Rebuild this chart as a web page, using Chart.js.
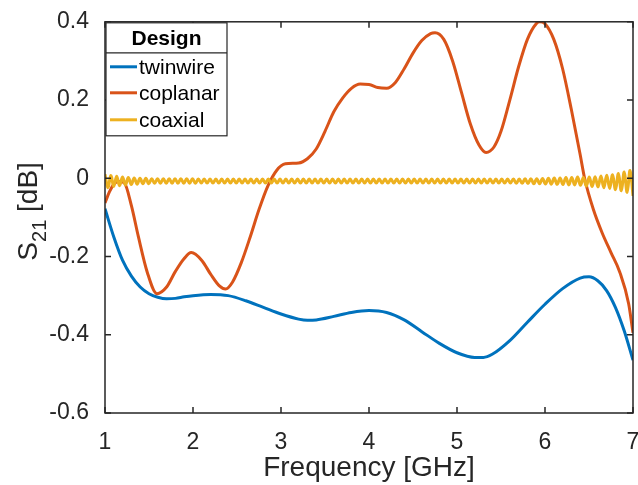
<!DOCTYPE html>
<html>
<head>
<meta charset="utf-8">
<script src="https://cdn.jsdelivr.net/npm/chart.js@4.4.1/dist/chart.umd.min.js"></script>
<style>
  html, body { margin: 0; padding: 0; background: #fff; }
  #wrap { width: 638px; height: 485px; }
</style>
</head>
<body>
<div id="wrap"><canvas id="s21Chart" width="638" height="485"></canvas></div>
<script>
const seriesNames = ['twinwire', 'coplanar', 'coaxial'];
const seriesColors = ['#0072BD', '#D95319', '#EDB120'];
const axisColor = '#262626';
const fontFamily = '"Liberation Sans", Arial, Helvetica, sans-serif';

const xTicks = [1, 2, 3, 4, 5, 6, 7];
const yTicks = [-0.6, -0.4, -0.2, 0, 0.2, 0.4];
const yTickLabels = ['-0.6', '-0.4', '-0.2', '0', '0.2', '0.4'];

// twinwire
const twinwireFreq = [1.00, 1.10, 1.20, 1.30, 1.40, 1.50, 1.60, 1.70, 1.80, 1.90, 2.00, 2.20, 2.40, 2.60,
    2.80, 3.00, 3.20, 3.30, 3.40, 3.60, 3.80, 4.00, 4.20, 4.40, 4.60, 4.80, 5.00, 5.20, 5.30, 5.40,
    5.60, 5.80, 6.00, 6.20, 6.40, 6.50, 6.60, 6.70, 6.80, 6.90, 7.00];
const twinwireS21 = [-0.078, -0.150, -0.210, -0.250, -0.278, -0.295, -0.304, -0.308, -0.307, -0.303, -0.300, -0.297, -0.300, -0.313,
    -0.330, -0.347, -0.360, -0.363, -0.362, -0.353, -0.343, -0.338, -0.343, -0.362, -0.392, -0.422, -0.446, -0.458, -0.458, -0.450,
    -0.415, -0.368, -0.322, -0.282, -0.255, -0.252, -0.262, -0.287, -0.330, -0.390, -0.465];

// coplanar
const coplanarFreq = [1.00, 1.05, 1.10, 1.16, 1.22, 1.30, 1.38, 1.48, 1.59, 1.70, 1.80, 1.90, 1.98, 2.10,
    2.20, 2.30, 2.37, 2.45, 2.55, 2.65, 2.75, 2.85, 2.95, 3.05, 3.20, 3.30, 3.40, 3.50, 3.60, 3.70,
    3.80, 3.90, 4.00, 4.10, 4.20, 4.30, 4.40, 4.50, 4.60, 4.70, 4.75, 4.85, 4.95, 5.05, 5.15, 5.25,
    5.33, 5.42, 5.50, 5.60, 5.70, 5.80, 5.90, 5.94, 6.00, 6.10, 6.20, 6.30, 6.40, 6.45, 6.55, 6.65,
    6.75, 6.85, 6.95, 7.00];
const coplanarS21 = [-0.063, -0.035, -0.015, -0.008, -0.012, -0.070, -0.150, -0.240, -0.295, -0.278, -0.238, -0.205, -0.190, -0.210,
    -0.245, -0.275, -0.283, -0.265, -0.215, -0.150, -0.080, -0.020, 0.020, 0.037, 0.039, 0.050, 0.075, 0.120, 0.170, 0.205,
    0.230, 0.241, 0.240, 0.232, 0.230, 0.245, 0.280, 0.320, 0.352, 0.370, 0.372, 0.355, 0.300, 0.220, 0.140, 0.085,
    0.066, 0.080, 0.120, 0.200, 0.285, 0.355, 0.395, 0.400, 0.395, 0.355, 0.280, 0.175, 0.060, 0.000, -0.080, -0.140,
    -0.190, -0.240, -0.320, -0.395];

// coaxial ripple: successive crests and troughs, evenly spaced from 1 to 7 GHz
const coaxialCrests = [0.010, 0.007, 0.005, 0.003, 0.002, 0.001, 0.000, 0.000, -0.001, -0.001,
    -0.001, -0.001, -0.001, -0.001, -0.001, -0.001, -0.002, -0.002, -0.002, -0.002,
    -0.002, -0.002, -0.002, -0.002, -0.002, -0.002, -0.002, -0.002, -0.002, -0.002,
    -0.002, -0.002, -0.002, -0.002, -0.002, -0.002, -0.002, -0.002, -0.002, -0.002,
    -0.002, -0.002, -0.002, -0.002, -0.002, -0.002, -0.002, -0.002, -0.002, -0.002,
    -0.002, -0.002, -0.002, -0.002, -0.002, -0.002, -0.002, -0.002, -0.002, -0.002,
    -0.002, -0.002, -0.002, -0.002, -0.002, -0.002, -0.002, -0.002, -0.002, -0.002,
    -0.002, -0.002, -0.0015, -0.001, -0.001, -0.0005, 0.000, 0.0005, 0.001, 0.002,
    0.002, 0.003, 0.002, 0.003, 0.004, 0.006, 0.008, 0.009, 0.012, 0.016, 0.020];
const coaxialTroughs = [-0.024, -0.021, -0.019, -0.017, -0.016, -0.015, -0.014, -0.014, -0.013, -0.013,
    -0.013, -0.013, -0.013, -0.013, -0.013, -0.013, -0.012, -0.012, -0.012, -0.012,
    -0.012, -0.012, -0.012, -0.012, -0.012, -0.012, -0.012, -0.012, -0.012, -0.012,
    -0.012, -0.012, -0.012, -0.012, -0.012, -0.012, -0.012, -0.012, -0.012, -0.012,
    -0.012, -0.012, -0.012, -0.012, -0.012, -0.012, -0.012, -0.012, -0.012, -0.012,
    -0.012, -0.012, -0.012, -0.012, -0.012, -0.012, -0.012, -0.012, -0.012, -0.012,
    -0.012, -0.012, -0.012, -0.012, -0.012, -0.012, -0.012, -0.012, -0.012, -0.012,
    -0.013, -0.013, -0.0135, -0.014, -0.014, -0.0145, -0.015, -0.0155, -0.016, -0.017,
    -0.017, -0.018, -0.020, -0.021, -0.022, -0.024, -0.026, -0.029, -0.032, -0.036, -0.045];

function pairUp(xs, ys) {
    return xs.map((x, i) => ({ x, y: ys[i] }));
}

const coaxialPoints = [];
const coaxCount = coaxialCrests.length * 2;
coaxialCrests.forEach((c, i) => {
    coaxialPoints.push({ x: 1 + 6 * (2 * i) / (coaxCount - 1), y: c });
    coaxialPoints.push({ x: 1 + 6 * (2 * i + 1) / (coaxCount - 1), y: coaxialTroughs[i] });
});

const framePlugin = {
    id: 'matlabFrame',
    afterDatasetsDraw(chart) {
        const { ctx, chartArea: a, scales: { x, y } } = chart;
        ctx.save();

        // box + inward ticks on all four sides
        ctx.strokeStyle = axisColor;
        ctx.lineWidth = 1.5;
        ctx.strokeRect(a.left, a.top, a.right - a.left, a.bottom - a.top);
        ctx.beginPath();
        xTicks.forEach(v => {
            const px = x.getPixelForValue(v);
            ctx.moveTo(px, a.bottom); ctx.lineTo(px, a.bottom - 6);
            ctx.moveTo(px, a.top); ctx.lineTo(px, a.top + 6);
        });
        yTicks.forEach(v => {
            const py = y.getPixelForValue(v);
            ctx.moveTo(a.left, py); ctx.lineTo(a.left + 6, py);
            ctx.moveTo(a.right, py); ctx.lineTo(a.right - 6, py);
        });
        ctx.stroke();

        // legend with "Design" title
        const lx = a.left + 1, ly = a.top + 1, lw = 121, lh = 113;
        ctx.fillStyle = '#fff';
        ctx.fillRect(lx, ly, lw, lh);
        ctx.lineWidth = 1.2;
        ctx.strokeRect(lx, ly, lw, lh);
        ctx.beginPath();
        ctx.moveTo(lx, ly + 30); ctx.lineTo(lx + lw, ly + 30);
        ctx.stroke();
        ctx.fillStyle = '#000';
        ctx.font = 'bold 21px ' + fontFamily;
        ctx.textAlign = 'center';
        ctx.textBaseline = 'middle';
        ctx.fillText('Design', lx + lw / 2, ly + 16);
        ctx.font = '21px ' + fontFamily;
        ctx.textAlign = 'left';
        [44, 70, 97].forEach((off, i) => {
            ctx.strokeStyle = seriesColors[i];
            ctx.lineWidth = 3;
            ctx.beginPath();
            ctx.moveTo(lx + 4, ly + off); ctx.lineTo(lx + 31, ly + off);
            ctx.stroke();
            ctx.fillText(seriesNames[i], lx + 33, ly + off + 1);
        });

        // y-axis title with subscript
        ctx.fillStyle = axisColor;
        ctx.translate(37, (a.top + a.bottom) / 2 - 6);
        ctx.rotate(-Math.PI / 2);
        ctx.textBaseline = 'alphabetic';
        ctx.font = '28px ' + fontFamily;
        const wS = ctx.measureText('S').width;
        const wRest = ctx.measureText(' [dB]').width;
        ctx.font = '20px ' + fontFamily;
        const wSub = ctx.measureText('21').width;
        let cx = -(wS + wSub + wRest) / 2;
        ctx.font = '28px ' + fontFamily;
        ctx.fillText('S', cx, 0);
        cx += wS;
        ctx.font = '20px ' + fontFamily;
        ctx.fillText('21', cx, 9);
        cx += wSub;
        ctx.font = '28px ' + fontFamily;
        ctx.fillText(' [dB]', cx, 0);

        ctx.restore();
    }
};

new Chart(document.getElementById('s21Chart').getContext('2d'), {
    type: 'line',
    data: {
        datasets: [
            {
                label: seriesNames[0],
                data: pairUp(twinwireFreq, twinwireS21),
                borderColor: seriesColors[0],
                borderWidth: 3,
                pointRadius: 0,
                cubicInterpolationMode: 'monotone',
                order: 2
            },
            {
                label: seriesNames[1],
                data: pairUp(coplanarFreq, coplanarS21),
                borderColor: seriesColors[1],
                borderWidth: 3,
                pointRadius: 0,
                cubicInterpolationMode: 'monotone',
                order: 1
            },
            {
                label: seriesNames[2],
                data: coaxialPoints,
                borderColor: seriesColors[2],
                borderWidth: 3,
                pointRadius: 0,
                tension: 0.4,
                order: 0
            }
        ]
    },
    options: {
        responsive: false,
        animation: false,
        layout: { padding: { top: 20, right: 0, bottom: 0, left: 0 } },
        plugins: { legend: { display: false }, tooltip: { enabled: false } },
        scales: {
            x: {
                type: 'linear',
                min: 1,
                max: 7,
                afterBuildTicks: s => { s.ticks = xTicks.map(v => ({ value: v })); },
                ticks: { color: axisColor, font: { family: fontFamily, size: 23 }, padding: 8, maxRotation: 0 },
                grid: { display: false },
                border: { display: false },
                title: {
                    display: true,
                    text: 'Frequency [GHz]',
                    color: axisColor,
                    font: { family: fontFamily, size: 28 },
                    padding: { top: 0, bottom: 0 }
                },
                afterFit: s => { s.height = 72; s.paddingRight = 5; s.paddingLeft = 0; }
            },
            y: {
                type: 'linear',
                min: -0.6,
                max: 0.4,
                afterBuildTicks: s => { s.ticks = yTicks.map(v => ({ value: v })); },
                ticks: {
                    color: axisColor,
                    font: { family: fontFamily, size: 23 },
                    padding: 8,
                    callback: v => yTickLabels[yTicks.findIndex(t => Math.abs(t - v) < 1e-9)]
                },
                grid: { display: false },
                border: { display: false },
                afterFit: s => { s.width = 105; }
            }
        }
    },
    plugins: [framePlugin]
});
</script>
</body>
</html>
